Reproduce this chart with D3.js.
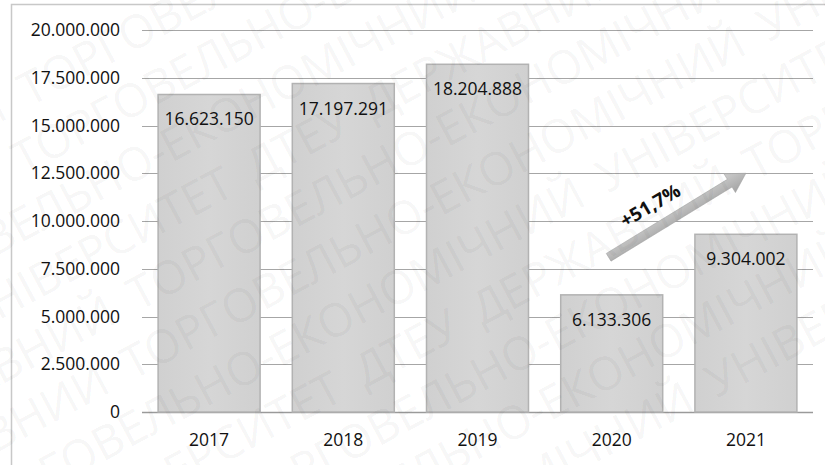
<!DOCTYPE html>
<html>
<head>
<meta charset="utf-8">
<script src="https://cdn.jsdelivr.net/npm/d3@7"></script>
<style>
  body { margin: 0; background: #fff; }
  svg text { font-family: "Open Sans", "Liberation Sans", sans-serif; }
</style>
</head>
<body>
<div class="chart"></div>
<script>
// data
var years = ["2017", "2018", "2019", "2020", "2021"];
var values = [16623150, 17197291, 18204888, 6133306, 9304002];
var yTicks = [0, 2500000, 5000000, 7500000, 10000000, 12500000, 15000000, 17500000, 20000000];
var growthLabel = "+51,7%";
var watermarkWords = ["ДТЕУ", "ДЕРЖАВНИЙ", "ТОРГОВЕЛЬНО-ЕКОНОМІЧНИЙ", "УНІВЕРСИТЕТ"];

var width = 825, height = 465;
var plot = {left: 142, right: 813, top: 30, bottom: 412};

var svg = d3.select(".chart").append("svg")
    .attr("width", width)
    .attr("height", height);

var defs = svg.append("defs");

var fmt = function(v) {
  return String(v).replace(/\B(?=(\d{3})+(?!\d))/g, ".");
};

var x = d3.scaleBand()
    .domain(years)
    .range([plot.left, plot.right])
    .paddingInner(0.24)
    .paddingOuter(0.12);

var y = d3.scaleLinear()
    .domain([0, 20000000])
    .range([plot.bottom, plot.top]);

// outer frame (cut off on right and bottom)
svg.append("path")
    .attr("d", "M11.5," + height + "V4.5H" + width)
    .style("fill", "none")
    .style("stroke", "#c8c8c8")
    .style("stroke-width", 1.5);

// gridlines
svg.append("g")
  .selectAll("line")
  .data(yTicks)
  .enter()
  .append("line")
    .attr("x1", plot.left)
    .attr("x2", plot.right)
    .attr("y1", function(d) { return Math.round(y(d)) + 0.5; })
    .attr("y2", function(d) { return Math.round(y(d)) + 0.5; })
    .style("stroke", function(d) { return d === 0 ? "#9a9a9a" : "#a6a6a6"; })
    .style("stroke-width", function(d) { return d === 0 ? 1.5 : 1; });

// y tick labels
svg.append("g")
  .selectAll("text")
  .data(yTicks)
  .enter()
  .append("text")
    .attr("x", 120)
    .attr("y", function(d) { return y(d); })
    .attr("dy", "0.35em")
    .attr("text-anchor", "end")
    .style("font-size", "17.5px")
    .style("fill", "#111")
    .text(fmt);

// bars
var grad = defs.append("linearGradient")
    .attr("id", "barfill")
    .attr("x1", 0).attr("x2", 1).attr("y1", 0).attr("y2", 0);
grad.append("stop").attr("offset", "0%").attr("stop-color", "#d0d0d0");
grad.append("stop").attr("offset", "50%").attr("stop-color", "#d6d6d6");
grad.append("stop").attr("offset", "100%").attr("stop-color", "#d0d0d0");

svg.append("g")
  .selectAll("rect")
  .data(values)
  .enter()
  .append("rect")
    .attr("x", function(d, i) { return x(years[i]); })
    .attr("y", function(d) { return y(d); })
    .attr("width", x.bandwidth())
    .attr("height", function(d) { return plot.bottom - y(d); })
    .style("fill", "url(#barfill)")
    .style("stroke", "#b2b2b2")
    .style("stroke-width", 1.5);

// value labels
svg.append("g")
  .selectAll("text")
  .data(values)
  .enter()
  .append("text")
    .attr("x", function(d, i) { return x(years[i]) + x.bandwidth() / 2; })
    .attr("y", function(d) { return y(d) + 31; })
    .attr("text-anchor", "middle")
    .style("font-size", "17.5px")
    .style("fill", "#111")
    .text(fmt);

// x labels
svg.append("g")
  .selectAll("text")
  .data(years)
  .enter()
  .append("text")
    .attr("x", function(d) { return x(d) + x.bandwidth() / 2; })
    .attr("y", 446)
    .attr("text-anchor", "middle")
    .style("font-size", "17.5px")
    .style("fill", "#111")
    .text(function(d) { return d; });

// growth arrow
var ax1 = x("2020") + x.bandwidth() * 0.47, ay1 = y(8100000);
var ax2 = x("2021") + x.bandwidth() * 0.5, ay2 = y(12500000);
var ang = Math.atan2(ay2 - ay1, ax2 - ax1) * 180 / Math.PI;
var len = Math.hypot(ax2 - ax1, ay2 - ay1);

var arrowGrad = defs.append("linearGradient")
    .attr("id", "arrowfill")
    .attr("x1", 0).attr("x2", 0).attr("y1", 0).attr("y2", 1);
arrowGrad.append("stop").attr("offset", "0%").attr("stop-color", "#cdcdcd");
arrowGrad.append("stop").attr("offset", "100%").attr("stop-color", "#a4a4a4");

svg.append("g")
    .attr("transform", "translate(" + ax1 + "," + ay1 + ") rotate(" + ang + ")")
  .append("path")
    .attr("d", "M0,-4.5H" + (len - 19) + "V-11L" + len + ",0L" + (len - 19) + ",11V4.5H0Z")
    .style("fill", "url(#arrowfill)")
    .style("stroke", "#a0a0a0")
    .style("stroke-width", 0.5);

svg.append("text")
    .attr("transform", "translate(" + (ax1 + 45) + "," + (ay1 - 46) + ") rotate(" + (ang + 1) + ")")
    .attr("text-anchor", "middle")
    .style("font-size", "19px")
    .style("font-weight", "bold")
    .style("fill", "#111")
    .text(growthLabel);

// faint watermark over the chart, one text per word
var wm = svg.append("g")
    .attr("transform", "translate(412,232) rotate(-28)")
    .style("pointer-events", "none");
d3.range(-5, 6).forEach(function(r, i) {
  var cx = -720 + (i % 4) * 95;
  var k = i % 4;
  while (cx < 720) {
    var t = wm.append("text")
        .attr("x", cx)
        .attr("y", r * 58)
        .style("font-size", "46px")
        .style("fill", "#000")
        .style("fill-opacity", 0.05)
        .text(watermarkWords[k % 4]);
    cx += t.node().getComputedTextLength() + 22;
    k++;
  }
});
</script>
</body>
</html>
